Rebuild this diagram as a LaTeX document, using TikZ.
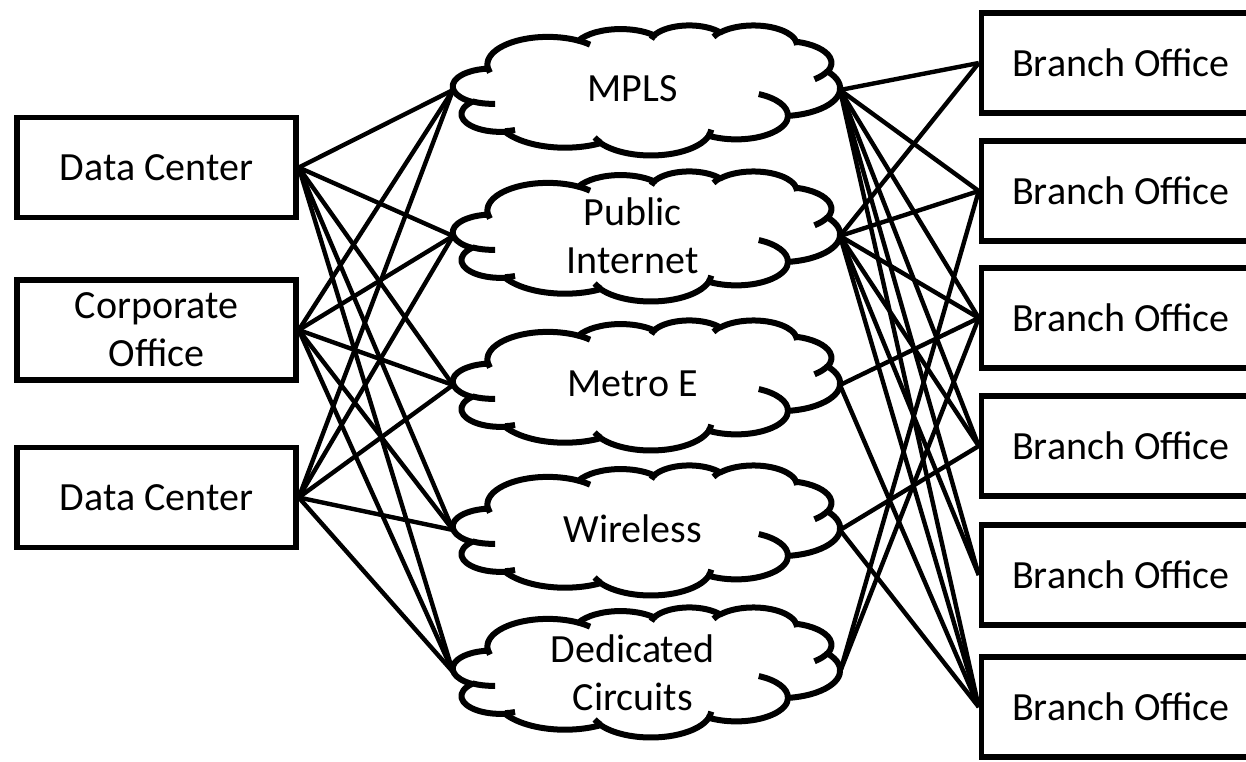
\documentclass[tikz,border=0pt]{standalone}
\usepackage{fontspec}
\setmainfont{Carlito}

% One elliptic segment of the cloud outline. Start and sweep are angles seen on
% the ellipse itself; they are turned into parametric angles for TikZ here.
\newcommand\mkcloudarc[5]{%
  \pgfmathsetmacro\cldtA{atan2((#2)*sin(#4),(#3)*cos(#4))}%
  \pgfmathsetmacro\cldtB{atan2((#2)*sin((#4)+(#5)),(#3)*cos((#4)+(#5)))}%
  \pgfmathsetmacro\cldtD{(\cldtB)-(\cldtA)}%
  \pgfmathsetmacro\cldtD{(\cldtD)+360*round(((#5)-(\cldtD))/360)}%
  \expandafter\xdef\csname #1\endcsname{arc[start angle=\cldtA,delta angle=\cldtD,x radius=#2,y radius=#3]}%
}
\newcommand\diagfont{\fontsize{40}{48}\selectfont}

% Cloud drawn in a 100 x 100 frame laid over the named frame node
\newcommand\drawcloud[1]{%
  \begin{scope}[shift={(#1.north west)}, x=3.87pt, y=-1.30pt]
    \draw[cloudline, fill=white] (9.028,33.264) \cldA \cldB \cldC \cldD \cldE \cldF
      \cldG \cldH \cldI \cldJ \cldK -- cycle;
    \draw[cloudline]
      (10.863,60.595) \curA (16.037,80.785) \curB (38.144,90.486) \curC
      (66.729,80.442) \curD (79.002,53.134) \curE (96.755,35.542) \curF
      (88.713,12.560) \curG (67.310,9.148) \curH (51.252,10.926) \curI
      (32.407,12.019) \curJ (9.553,36.549) \curK;
  \end{scope}}

\begin{document}
\begin{tikzpicture}[x=1pt, y=-1pt,
  box/.style={draw, line width=5.5pt, minimum width=279pt, minimum height=100pt,
    inner sep=0pt, font=\diagfont},
  cloudframe/.style={minimum width=387pt, minimum height=130pt, inner sep=0pt, outer sep=0pt},
  cloudlabel/.style={font=\diagfont, align=center, inner sep=0pt},
  link/.style={line width=4.4pt},
  cloudline/.style={line width=6pt, line join=round}]

% outline segments
\mkcloudarc{cldA}{15.632}{21.273}{-190.4875}{123.7805}
\mkcloudarc{cldB}{12.345}{16.822}{-144.1024}{89.9452}
\mkcloudarc{cldC}{10.104}{13.762}{-145.8079}{99.7230}
\mkcloudarc{cldD}{11.243}{15.266}{-130.9861}{117.2417}
\mkcloudarc{cldE}{12.345}{16.836}{-78.7089}{109.0269}
\mkcloudarc{cldF}{15.683}{21.343}{-46.2673}{130.2690}
\mkcloudarc{cldG}{13.391}{18.211}{0.6250}{114.0333}
\mkcloudarc{cldH}{15.630}{21.331}{22.4516}{115.1726}
\mkcloudarc{cldI}{17.870}{24.405}{66.2426}{75.7110}
\mkcloudarc{cldJ}{10.093}{13.699}{-274.9421}{146.7356}
\mkcloudarc{cldK}{10.058}{13.762}{-246.8285}{152.5189}
% inner curls
\mkcloudarc{curA}{10.058}{13.762}{86.7420}{26.4295}
\mkcloudarc{curB}{10.093}{13.699}{73.6105}{11.4475}
\mkcloudarc{curC}{15.630}{21.331}{137.6242}{14.0811}
\mkcloudarc{curD}{15.630}{21.331}{6.4533}{15.9984}
\mkcloudarc{curE}{13.391}{18.211}{-70.2924}{70.9174}
\mkcloudarc{curF}{12.345}{16.836}{30.3180}{27.7515}
\mkcloudarc{curG}{11.243}{15.266}{-13.7443}{14.8589}
\mkcloudarc{curH}{11.243}{15.266}{-149.1815}{18.1954}
\mkcloudarc{curI}{10.104}{13.762}{-163.4943}{17.6864}
\mkcloudarc{curJ}{15.632}{21.273}{-66.7070}{12.3194}
\mkcloudarc{curK}{15.632}{21.273}{157.6544}{11.8582}

\useasboundingbox (0,0) rectangle (1246,761);
\clip (0,0) rectangle (1246,761);

% sites on the left
\node[box] (dc1) at (156.5,167.5) {Data Center};
\node[box, align=center] (corp) at (156.5,330) {Corporate\\Office};
\node[box] (dc2) at (156.5,497.5) {Data Center};

% transport networks
\node[cloudframe] (mpls)  at (646.5,90)  {};
\node[cloudframe] (inet)  at (646.5,236) {};
\node[cloudframe] (metro) at (646.5,385) {};
\node[cloudframe] (wless) at (646.5,530) {};
\node[cloudframe] (dedic) at (646.5,672) {};

% branch offices
\node[box] (b1) at (1121,63)  {Branch Office};
\node[box] (b2) at (1121,191) {Branch Office};
\node[box] (b3) at (1121,318) {Branch Office};
\node[box] (b4) at (1121,446) {Branch Office};
\node[box] (b5) at (1121,575) {Branch Office};
\node[box] (b6) at (1121,707) {Branch Office};

% every site reaches every network
\foreach \s in {dc1,corp,dc2}
  \foreach \c in {mpls,inet,metro,wless,dedic}
    \draw[link] (\s.east) -- (\c.west);

% networks to branches
\foreach \b in {b1,b2,b3,b4,b5,b6} {
  \draw[link] (mpls.east) -- (\b.west);
  \draw[link] (inet.east) -- (\b.west);
}
\draw[link] (metro.east) -- (b3.west);
\draw[link] (metro.east) -- (b6.west);
\draw[link] (wless.east) -- (b4.west);
\draw[link] (wless.east) -- (b6.west);
\draw[link] (dedic.east) -- (b2.west);
\draw[link] (dedic.east) -- (b3.west);

\drawcloud{mpls}
\drawcloud{inet}
\drawcloud{metro}
\drawcloud{wless}
\drawcloud{dedic}

\node[cloudlabel] (mplsT)  at (632.7,89)  {MPLS};
\node[cloudlabel] (inetT)  at (632.7,236) {Public\\Internet};
\node[cloudlabel] (metroT) at (632.7,384) {Metro E};
\node[cloudlabel] (wlessT) at (632.7,529) {Wireless};
\node[cloudlabel] (dedicT) at (632.7,673) {Dedicated\\Circuits};
\end{tikzpicture}
\end{document}
